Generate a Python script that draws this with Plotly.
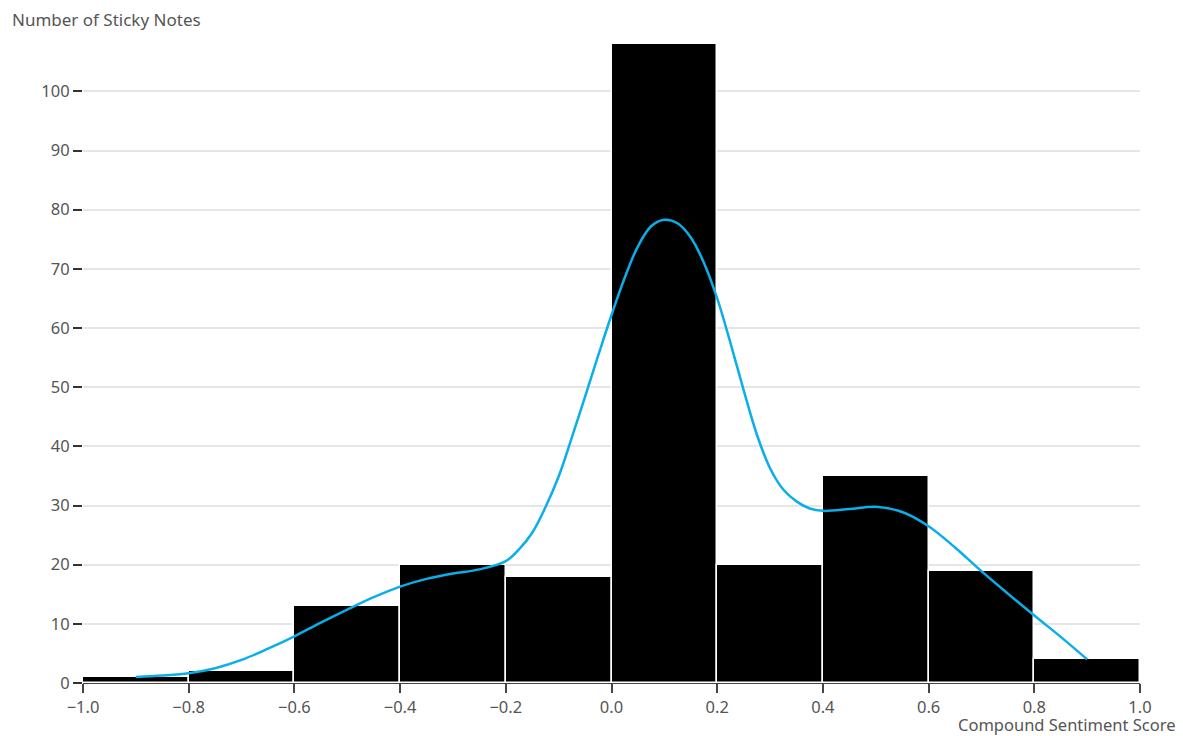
import plotly.graph_objects as go

bin_starts = [-1.0, -0.8, -0.6, -0.4, -0.2, 0.0, 0.2, 0.4, 0.6, 0.8]
bin_width = 0.2
counts = [1, 2, 13, 20, 18, 108, 20, 35, 19, 4]

curve_x = [-0.9, -0.85, -0.8, -0.75, -0.7, -0.65, -0.6, -0.55, -0.5, -0.45,
           -0.4, -0.35, -0.3, -0.25, -0.2, -0.175, -0.15, -0.125, -0.1, -0.075,
           -0.05, -0.025, 0.0, 0.025, 0.05, 0.075, 0.1, 0.125, 0.15, 0.175,
           0.2, 0.225, 0.25, 0.275, 0.3, 0.325, 0.35, 0.375, 0.4, 0.45,
           0.5, 0.55, 0.6, 0.65, 0.7, 0.75, 0.8, 0.85, 0.9]
curve_y = [1.0, 1.25, 1.65, 2.5, 3.9, 5.8, 7.9, 10.2, 12.4, 14.5,
           16.3, 17.6, 18.5, 19.2, 20.6, 22.6, 25.4, 29.7, 34.9, 41.5,
           48.4, 55.4, 62.2, 68.5, 73.8, 77.2, 78.3, 77.7, 75.3, 71.0,
           65.0, 57.5, 49.5, 42.0, 36.3, 32.7, 30.7, 29.5, 29.1, 29.4,
           29.8, 28.9, 26.5, 22.9, 18.9, 15.1, 11.4, 7.8, 4.0]

x_ticks = [-1.0, -0.8, -0.6, -0.4, -0.2, 0.0, 0.2, 0.4, 0.6, 0.8, 1.0]
y_ticks = list(range(0, 101, 10))

centers = [s + bin_width / 2 for s in bin_starts]

FONT = "Noto Sans"
TXT = "#555555"

fig = go.Figure()
fig.add_trace(go.Bar(
    x=centers, y=counts, width=[bin_width] * len(counts),
    marker=dict(color="black", line=dict(color="white", width=1.5)),
    hoverinfo="x+y", showlegend=False,
))
fig.add_trace(go.Scatter(
    x=curve_x, y=curve_y, mode="lines",
    line=dict(color="#0aaee8", width=2.5, shape="spline", smoothing=1.0),
    showlegend=False,
))

fig.update_layout(
    width=1183, height=736,
    margin=dict(l=83, r=43, t=44, b=53),
    plot_bgcolor="white", paper_bgcolor="white",
    bargap=0,
    font=dict(family=FONT, size=16, color=TXT),
    xaxis=dict(
        range=[-1.0, 1.0], tickvals=x_ticks, tickformat=".1f",
        showgrid=False, zeroline=False,
        showline=True, linecolor="#444444", linewidth=1,
        ticks="outside", ticklen=9, tickwidth=1.5, tickcolor="#444444",
        tickfont=dict(family=FONT, size=16.5, color=TXT),
    ),
    yaxis=dict(
        range=[0, 108], tickvals=y_ticks,
        showgrid=True, gridcolor="#e6e6e6", gridwidth=1.5,
        zeroline=False, showline=False,
        ticks="outside", ticklen=9, tickwidth=1.5, tickcolor="#333333",
        tickfont=dict(family=FONT, size=16.5, color=TXT),
    ),
    annotations=[
        dict(text="Number of Sticky Notes", xref="paper", yref="paper",
             x=(10 - 83) / 1057, y=(683 - 19) / 639, xanchor="left", yanchor="middle",
             showarrow=False, font=dict(family=FONT, size=17, color=TXT)),
        dict(text="Compound Sentiment Score", xref="paper", yref="paper",
             x=(1177 - 83) / 1057, y=(683 - 724) / 639, xanchor="right", yanchor="middle",
             showarrow=False, borderpad=0, font=dict(family=FONT, size=16.5, color=TXT)),
    ],
)

fig.write_html(
    "out.html",
    config={"displayModeBar": False},
    post_script="document.body.style.margin='0';document.body.style.overflow='hidden';",
)
